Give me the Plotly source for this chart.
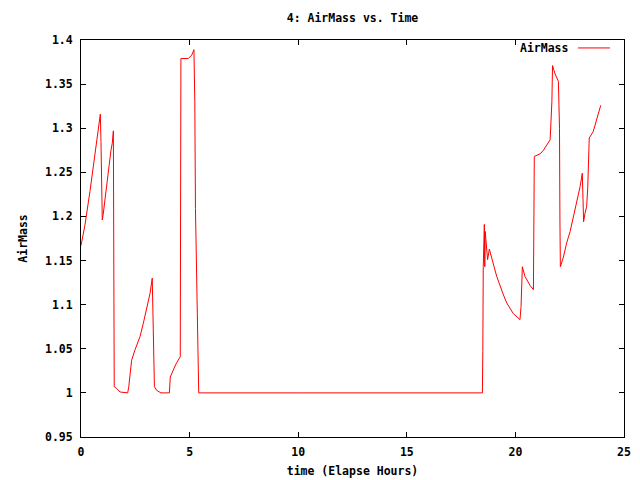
import plotly.graph_objects as go

# Elapsed time (hours) and airmass values
time_hours = [
    0.0, 0.18, 0.41, 0.57, 0.72, 0.80, 0.86, 0.89, 0.92, 0.95, 0.98,
    1.02, 1.10, 1.18, 1.26, 1.33, 1.38, 1.44, 1.49, 1.53,
    1.64, 1.80, 2.03, 2.15, 2.20, 2.26, 2.33, 2.49, 2.72, 2.87, 3.02, 3.18, 3.28,
    3.36, 3.38, 3.48, 3.68, 4.07, 4.11, 4.25, 4.40, 4.57,
    4.60, 4.94, 5.10, 5.20, 5.24, 5.27, 5.33, 5.38, 5.42,
    10.0, 15.0, 18.48,
    18.50, 18.52, 18.57, 18.59, 18.61, 18.66, 18.72, 18.80, 19.14, 19.45, 19.60,
    19.90, 20.21, 20.26, 20.29, 20.32, 20.44, 20.67, 20.83,
    20.86, 20.87, 21.14, 21.29, 21.60, 21.68, 21.71, 21.82, 21.98,
    22.03, 22.05, 22.07, 22.21, 22.36, 22.52, 22.67, 22.83, 22.98, 23.08,
    23.12, 23.14, 23.20, 23.28, 23.33, 23.36, 23.37, 23.40, 23.58, 23.74, 23.86, 23.93,
]
airmass = [
    1.167, 1.190, 1.228, 1.256, 1.283, 1.302, 1.311, 1.316, 1.285, 1.226, 1.196,
    1.202, 1.219, 1.236, 1.251, 1.264, 1.275, 1.283, 1.297, 1.007,
    1.005, 1.001, 1.000, 1.000, 1.007, 1.023, 1.037, 1.049, 1.064, 1.079, 1.094, 1.113, 1.130,
    1.040, 1.007, 1.003, 1.000, 1.000, 1.018, 1.026, 1.034, 1.041,
    1.379, 1.379, 1.383, 1.389, 1.330, 1.209, 1.113, 1.036, 1.000,
    1.000, 1.000, 1.000,
    1.047, 1.143, 1.191, 1.143, 1.183, 1.166, 1.151, 1.163, 1.132, 1.111, 1.102,
    1.090, 1.083, 1.098, 1.128, 1.143, 1.132, 1.122, 1.117,
    1.193, 1.268, 1.271, 1.275, 1.287, 1.330, 1.371, 1.362, 1.353,
    1.300, 1.196, 1.143, 1.154, 1.170, 1.183, 1.200, 1.215, 1.234, 1.249,
    1.221, 1.194, 1.203, 1.211, 1.232, 1.253, 1.270, 1.289, 1.296, 1.309, 1.321, 1.326,
]

x_ticks = [0, 5, 10, 15, 20, 25]
y_ticks = [0.95, 1.0, 1.05, 1.1, 1.15, 1.2, 1.25, 1.3, 1.35, 1.4]
y_tick_labels = ["0.95", "1", "1.05", "1.1", "1.15", "1.2", "1.25", "1.3", "1.35", "1.4"]

FONT = dict(family="DejaVu Sans Mono", size=11.5, color="black", weight="bold")

fig = go.Figure()
fig.add_trace(go.Scatter(
    x=time_hours, y=airmass, mode="lines", name="AirMass",
    line=dict(color="#ff0000", width=1), showlegend=False,
))

axis_common = dict(
    showline=True, linecolor="black", linewidth=1, mirror="allticks",
    ticks="inside", ticklen=5, tickcolor="black", tickwidth=1,
    showgrid=False, zeroline=False, tickfont=FONT, automargin=False,
)
fig.update_xaxes(range=[0, 25], tickvals=x_ticks, ticklabelstandoff=4,
                 title=dict(text="time (Elapse Hours)", font=FONT, standoff=9),
                 **axis_common)
fig.update_yaxes(range=[0.95, 1.4], tickvals=y_ticks, ticktext=y_tick_labels,
                 ticklabelstandoff=5,
                 title=dict(text="AirMass", font=FONT, standoff=14),
                 **axis_common)

fig.add_annotation(text="AirMass", xref="paper", yref="paper", x=0.9006, y=0.980,
                   xanchor="right", yanchor="middle", showarrow=False, font=FONT)
fig.add_shape(type="line", xref="paper", yref="paper", x0=0.9153, x1=0.9742,
              y0=0.980, y1=0.980, line=dict(color="#ff0000", width=1))

# The page adds an 8px offset, so the figure is 8px smaller and margins adjusted
fig.update_layout(
    width=632, height=472,
    margin=dict(l=73, r=16, t=32, b=43),
    paper_bgcolor="white", plot_bgcolor="white",
    title=dict(text="4: AirMass vs. Time", font=FONT, x=(352.5 - 8) / 632, xanchor="center",
               y=1 - 10 / 472, yanchor="middle", yref="container"),
    font=FONT,
)

fig.write_html("out.html")
